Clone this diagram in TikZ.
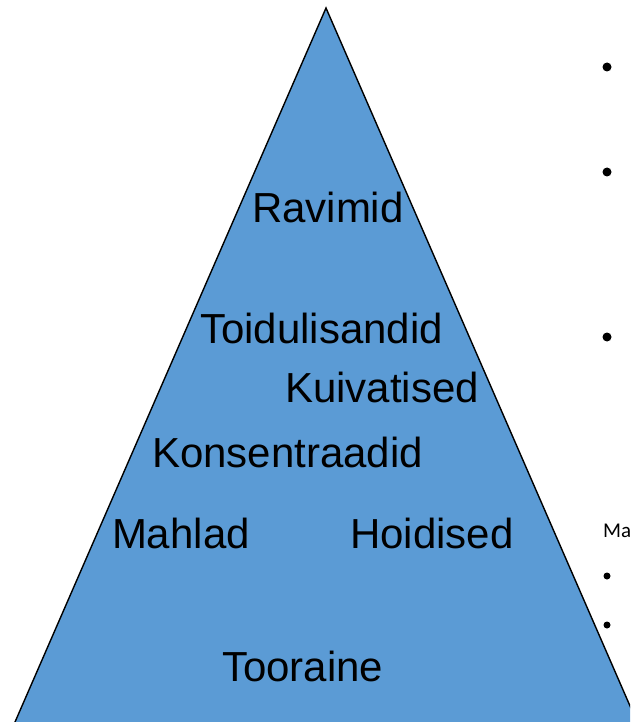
\documentclass[tikz,border=0pt]{standalone}
\usepackage{fontspec}
\setmainfont{Liberation Sans}
\newfontfamily\calfont{Carlito}
\definecolor{pyrfill}{HTML}{5B9BD5}
\begin{document}
\begin{tikzpicture}[x=1pt,y=-1pt,
  lbl/.style={anchor=base west,inner sep=0pt,outer sep=0pt,font=\fontsize{42}{42}\selectfont,text=black},
  dotbig/.style={circle,fill=black,inner sep=0pt,minimum size=9pt},
  dotsmall/.style={circle,fill=black,inner sep=0pt,minimum size=7pt}]
\useasboundingbox (0,0) rectangle (630,722);
\clip (0,0) rectangle (630,722);
\fill[white] (0,0) rectangle (630,722);
\filldraw[fill=pyrfill,draw=black,line width=1.4pt,line join=miter]
  (326,8) coordinate (apex) -- (638.3,725) coordinate (br) -- (13.7,725) coordinate (bl) -- cycle;
\node[lbl] (ravimid) at (252,222) {Ravimid};
\node[lbl] (toidu) at (200,343) {Toidulisandid};
\node[lbl] (kuiv) at (285,402) {Kuivatised};
\node[lbl] (kons) at (152,467) {Konsentraadid};
\node[lbl] (mahlad) at (112,548) {Mahlad};
\node[lbl] (hoid) at (350,548) {Hoidised};
\node[lbl] (toor) at (222,681) {Tooraine};
\node[dotbig] (b1) at (607,67) {};
\node[dotbig] (b2) at (607,172) {};
\node[dotbig] (b3) at (607,337) {};
\node[anchor=base west,inner sep=0pt,font=\calfont\fontsize{21}{21}\selectfont] (ma) at (603,537) {Ma};
\node[dotsmall] (b4) at (607,576) {};
\node[dotsmall] (b5) at (607,625) {};
\end{tikzpicture}
\end{document}
